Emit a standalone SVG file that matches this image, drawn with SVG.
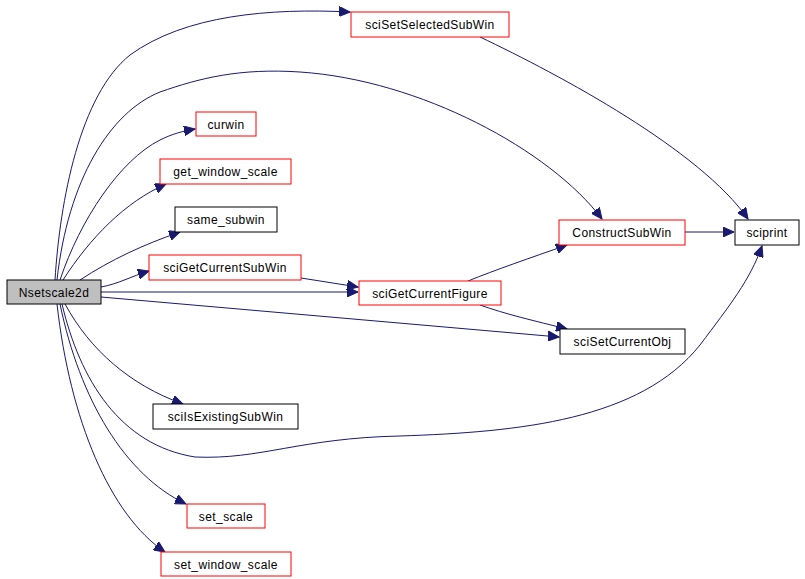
<svg xmlns="http://www.w3.org/2000/svg" width="805" height="579" viewBox="0 0 805 579">
<style>
.n rect{fill:#fff;stroke-width:1}
.red rect{stroke:#ff0000}
.blk rect{stroke:#000}
.n text{font-family:"Liberation Sans",Arial,sans-serif;font-size:12px;letter-spacing:0.4px;fill:#000;text-anchor:middle}
.e path{fill:none;stroke:#191970;stroke-width:1;marker-end:url(#ah)}
</style>
<defs>
<marker id="ah" markerUnits="userSpaceOnUse" markerWidth="12" markerHeight="10" refX="11" refY="5" orient="auto">
<path d="M0,0 L11,5 L0,10 Z" fill="#191970" stroke="#191970"/>
</marker>
</defs>
<rect width="805" height="579" fill="#fff"/>
<g class="e" id="edges">
<path d="M55,280 C60,200 80,95 130,55 C185,15 270,8 350,12"/>
<path d="M57,280 C68,180 110,112 160,92 C200,78 240,68 300,72 C420,80 550,150 602,219"/>
<path d="M60,280 C80,220 120,160 160,140 C172,134 183,131 195,129"/>
<path d="M63,280 C90,238 125,202 166,184"/>
<path d="M80,280 C110,260 145,244 180,232"/>
<path d="M101,287 C118,284 132,276 149,271"/>
<path d="M101,292 L358,292"/>
<path d="M101,297 L559,337"/>
<path d="M301,278 L358,287"/>
<path d="M468,281 C495,270 530,258 567,245"/>
<path d="M480,305 C505,314 535,321 567,329"/>
<path d="M480,37 C560,75 700,150 748,219"/>
<path d="M685,232 L734,232"/>
<path d="M62,304 C80,380 120,445 195,457 C260,460 300,438 400,436 C520,432 640,420 700,345 C730,305 750,280 762,246"/>
<path d="M65,304 C90,350 130,385 183,404"/>
<path d="M60,304 C80,400 125,475 186,504"/>
<path d="M57,304 C70,420 110,515 165,552"/>
</g>
<g class="n" id="Nsetscale2d"><rect x="7" y="280" width="94" height="24" style="fill:#bfbfbf;stroke:#000"/><text x="54" y="297">Nsetscale2d</text></g>
<g class="n red" id="sciSetSelectedSubWin"><rect x="351" y="12" width="158" height="25"/><text x="430" y="29">sciSetSelectedSubWin</text></g>
<g class="n red" id="curwin"><rect x="196" y="112" width="60" height="24"/><text x="226" y="129">curwin</text></g>
<g class="n red" id="get_window_scale"><rect x="160" y="159" width="131" height="25"/><text x="225.5" y="176">get_window_scale</text></g>
<g class="n blk" id="same_subwin"><rect x="175" y="207" width="102" height="25"/><text x="226" y="224">same_subwin</text></g>
<g class="n red" id="sciGetCurrentSubWin"><rect x="149" y="255" width="152" height="25"/><text x="225" y="272">sciGetCurrentSubWin</text></g>
<g class="n red" id="sciGetCurrentFigure"><rect x="359" y="281" width="142" height="24"/><text x="430" y="298">sciGetCurrentFigure</text></g>
<g class="n red" id="ConstructSubWin"><rect x="559" y="220" width="126" height="25"/><text x="622" y="237">ConstructSubWin</text></g>
<g class="n blk" id="sciprint"><rect x="735" y="220" width="64" height="25"/><text x="767" y="237">sciprint</text></g>
<g class="n blk" id="sciSetCurrentObj"><rect x="560" y="329" width="125" height="25"/><text x="622.5" y="346">sciSetCurrentObj</text></g>
<g class="n blk" id="sciIsExistingSubWin"><rect x="153" y="404" width="145" height="25"/><text x="225.5" y="421">sciIsExistingSubWin</text></g>
<g class="n red" id="set_scale"><rect x="187" y="504" width="78" height="24"/><text x="226" y="521">set_scale</text></g>
<g class="n red" id="set_window_scale"><rect x="161" y="552" width="130" height="24"/><text x="226" y="569">set_window_scale</text></g>
</svg>
